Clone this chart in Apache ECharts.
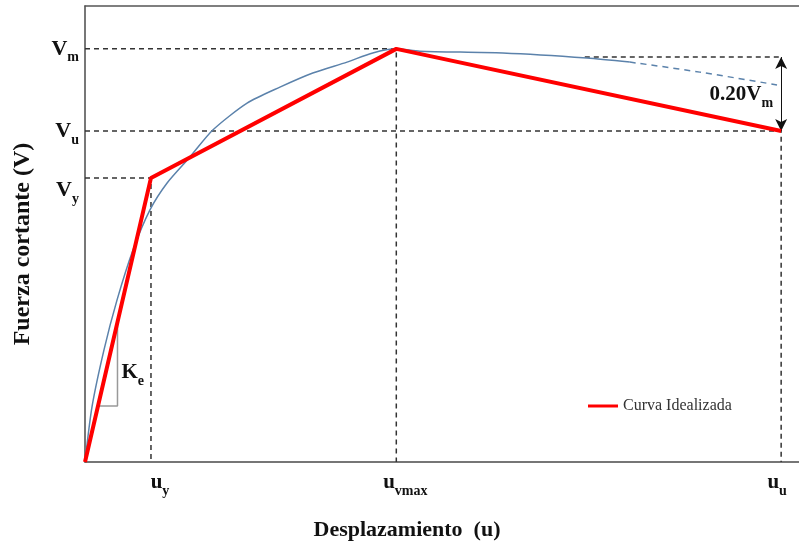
<!DOCTYPE html>
<html>
<head>
<meta charset="utf-8">
<script src="https://cdn.jsdelivr.net/npm/echarts@6/dist/echarts.min.js"></script>
<style>html,body{margin:0;padding:0;background:#fff;}#c{width:799px;height:546px;}</style>
</head>
<body>
<div id="c"></div>
<script>
// ---- data (arbitrary units) ----
const xMax = 100, yMax = 100;
const uy = 9.24, uvmax = 43.6, uu = 97.5;
const Vy = 62.3, Vm = 90.6, Vu = 72.6;
const xTickValues = [uy, uvmax, uu];
const xTickNames = [['u', 'y'], ['u', 'vmax'], ['u', 'u']];
const yTickValues = [Vy, Vu, Vm];
const yTickNames = [['V', 'y'], ['V', 'u'], ['V', 'm']];
const idealX = [0, uy, uvmax, uu];
const idealY = [0, Vy, Vm, Vu];
const capX = [0, 0.98, 2.66, 4.48, 6.72, 9.1, 11.5, 14.7, 17.9, 22.7, 27.3, 31.9, 36.7, 40.3, 43.6, 46.9, 58.5, 70.3, 76.3];
const capY = [0, 12.1, 24.6, 35.5, 46.5, 55.3, 61.2, 66.9, 72.8, 78.7, 82.2, 85.3, 87.7, 89.7, 90.6, 90.1, 89.7, 88.6, 87.7];
const capDashX = [76.3, 86.1, 97.6];
const capDashY = [87.7, 85.5, 82.5];
const dropTop = 88.8, dropStartX = 70.0;
const keX = [1.82, 4.55, 4.55];
const keY = [12.3, 12.3, 30.7];
const keLabelPos = [4.55, 19.6];
const dropLabelPos = [uu, 80.6];
const legendName = 'Curva Idealizada';

const zip = (a, b) => a.map((v, i) => [v, b[i]]);
const serif = '"Liberation Serif", "Times New Roman", serif';
const dashStyle = { color: '#333', width: 1.5, type: [5, 4] };
const subRich = {
  b: { fontFamily: serif, fontSize: 21, fontWeight: 'bold', color: '#111', verticalAlign: 'bottom' },
  s: { fontFamily: serif, fontSize: 14, fontWeight: 'bold', color: '#111', verticalAlign: 'bottom', padding: [0, 0, -5, 0] }
};

function guide(points) {
  return { type: 'line', data: points, symbol: 'none', silent: true, z: 2,
    lineStyle: dashStyle, animation: false };
}

const chart = echarts.init(document.getElementById('c'));
chart.setOption({
  animation: false,
  backgroundColor: '#fff',
  grid: { left: 85, top: 6, right: 0, bottom: 84, containLabel: false, outerBoundsMode: 'none' },
  legend: {
    data: [legendName], left: 583, top: 393, icon: 'rect', itemWidth: 30, itemHeight: 3,
    textStyle: { fontFamily: serif, fontSize: 16, color: '#333' }
  },
  xAxis: [{
    type: 'value', min: 0, max: xMax, splitLine: { show: false },
    axisLine: { lineStyle: { color: '#4a4a4a', width: 1.5 } },
    axisTick: { show: false },
    name: 'Desplazamiento  (u)', nameLocation: 'middle', nameGap: 57,
    nameTextStyle: { fontFamily: serif, fontSize: 22, fontWeight: 'bold', color: '#111', padding: [0, 70, 0, 0] },
    axisLabel: {
      customValues: xTickValues, margin: 10,
      formatter: function (v) {
        const i = xTickValues.findIndex(t => Math.abs(t - v) < 1e-6);
        if (i < 0) return '';
        const pre = i < 2 ? '{p|}' : '';
        const post = i === 2 ? '{q|}' : '';
        return pre + '{b|' + xTickNames[i][0] + '}{s|' + xTickNames[i][1] + '}' + post;
      },
      rich: Object.assign({ p: { width: 18 }, q: { width: 8 } }, subRich)
    }
  }, {
    type: 'value', position: 'top', min: 0, max: xMax,
    axisLine: { show: true, lineStyle: { color: '#555', width: 1.5 } },
    axisTick: { show: false }, axisLabel: { show: false }, splitLine: { show: false }
  }],
  yAxis: {
    type: 'value', min: 0, max: yMax, splitLine: { show: false },
    axisLine: { show: true, lineStyle: { color: '#4a4a4a', width: 1.5 } },
    axisTick: { show: false },
    name: 'Fuerza cortante (V)', nameLocation: 'middle', nameGap: 50, nameRotate: 90,
    nameTextStyle: { fontFamily: serif, fontSize: 24, fontWeight: 'bold', color: '#111', padding: [0, 20, 0, 0] },
    axisLabel: {
      customValues: yTickValues, margin: 6,
      formatter: function (v) {
        const i = yTickValues.findIndex(t => Math.abs(t - v) < 1e-6);
        if (i < 0) return '';
        const pad = i === 0 ? '{d|}' : '';
        return pad + '{b|' + yTickNames[i][0] + '}{s|' + yTickNames[i][1] + '}';
      },
      rich: Object.assign({ d: { height: 46, width: 0 } }, subRich, {
        b: Object.assign({}, subRich.b, { fontSize: 22 })
      })
    }
  },
  series: [
    guide([[0, Vm], [uvmax, Vm], [uvmax, 0]]),
    guide([[0, Vu], [uu, Vu], [uu, 0]]),
    guide([[0, Vy], [uy, Vy], [uy, 0]]),
    Object.assign(guide([[dropStartX, dropTop], [uu, dropTop]]), {
      markLine: {
        silent: true, symbol: ['arrow', 'arrow'], symbolSize: [9, 12],
        lineStyle: { color: '#111', width: 1, type: 'solid' }, label: { show: false },
        data: [[{ coord: [uu, dropTop] }, { coord: [uu, Vu] }]]
      }
    }),
    {
      type: 'line', data: zip(keX, keY), symbol: 'none', silent: true, z: 2,
      lineStyle: { color: '#999', width: 1.5 }
    },
    {
      type: 'line', data: zip(capX, capY), symbol: 'none', smooth: 0.25,
      silent: true, z: 3, lineStyle: { color: '#5b82ab', width: 1.5 }
    },
    {
      type: 'line', data: zip(capDashX, capDashY), symbol: 'none', smooth: 0.4,
      silent: true, z: 3, lineStyle: { color: '#5b82ab', width: 1.5, type: [6, 5] }
    },
    {
      name: legendName, type: 'line', data: zip(idealX, idealY), symbol: 'none', z: 5,
      itemStyle: { color: '#ff0000' }, lineStyle: { color: '#ff0000', width: 4 }
    },
    {
      type: 'scatter', data: [keLabelPos], symbolSize: 0, silent: true, z: 6,
      itemStyle: { opacity: 1 },
      label: { show: true, color: '#111', opacity: 1, formatter: '{b|K}{s|e}', position: 'right', distance: 4, rich: subRich }
    },
    {
      type: 'scatter', data: [dropLabelPos], symbolSize: 0, silent: true, z: 6,
      itemStyle: { opacity: 1 },
      label: { show: true, color: '#111', opacity: 1, formatter: '{b|0.20V}{s|m}', position: 'left', distance: 8, rich: subRich }
    }
  ]
});
</script>
</body>
</html>
